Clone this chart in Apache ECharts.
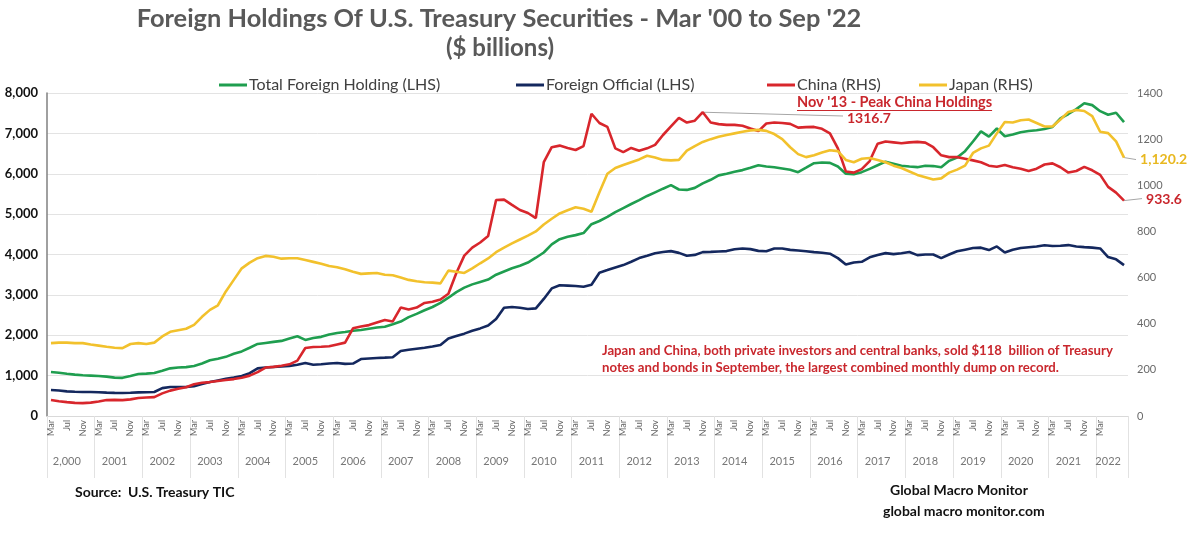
<!DOCTYPE html>
<html lang="en">
<head>
    <meta charset="UTF-8">
    <title>Foreign Holdings Of U.S. Treasury Securities</title>
    <script src="https://cdn.jsdelivr.net/npm/echarts@6.0.0/dist/echarts.min.js"></script>
    <style>
        body { margin: 0; padding: 0; background: #fff; }
        #chart { width: 1200px; height: 545px; }
    </style>
</head>
<body>
    <div id="chart"></div>

    <script>
        // bimonthly readings, Mar 2000 .. Sep 2022 (Mar, May, Jul, Sep, Nov, Jan ...)
        const monthNames = ['Mar', 'May', 'Jul', 'Sep', 'Nov', 'Jan'];

        // $ billions, left axis
        const totalForeign = [
            1089, 1070, 1045, 1025, 1010, 1000, 990, 975, 950, 945, 990, 1040,
            1050, 1065, 1120, 1180, 1200, 1210, 1240, 1300, 1380, 1420, 1465, 1540,
            1600, 1690, 1785, 1810, 1835, 1860, 1920, 1975, 1885, 1930, 1960, 2020,
            2055, 2080, 2110, 2130, 2160, 2190, 2210, 2270, 2340, 2450, 2530, 2620,
            2700, 2800, 2930, 3069, 3180, 3260, 3320, 3380, 3500, 3580, 3660, 3720,
            3800, 3920, 4050, 4250, 4380, 4440, 4480, 4530, 4750, 4830, 4930, 5050,
            5150, 5250, 5346, 5450, 5540, 5630, 5717, 5610, 5600, 5650, 5760, 5850,
            5960, 6000, 6050, 6090, 6150, 6212, 6180, 6160, 6130, 6100, 6040, 6150,
            6262, 6280, 6270, 6180, 6000, 5990, 6040, 6120, 6210, 6300, 6250, 6200,
            6180, 6163, 6200, 6190, 6160, 6320, 6400, 6560, 6800, 7050, 6920, 7120,
            6930, 6970, 7030, 7060, 7079, 7110, 7160, 7370, 7480, 7600, 7747, 7700,
            7550, 7460, 7510, 7277
        ];
        const foreignOfficial = [
            644, 630, 610, 600, 595, 594, 590, 580, 572, 569, 575, 585,
            590, 594, 690, 718, 718, 720, 740, 790, 840, 880, 920, 950,
            990, 1060, 1180, 1200, 1213, 1225, 1238, 1270, 1312, 1270, 1280, 1300,
            1312, 1290, 1300, 1411, 1425, 1436, 1445, 1455, 1609, 1640, 1665, 1690,
            1720, 1757, 1920, 1980, 2040, 2110, 2170, 2240, 2400, 2680, 2698, 2680,
            2650, 2665, 2900, 3160, 3240, 3230, 3218, 3200, 3250, 3550, 3614, 3680,
            3737, 3820, 3911, 3970, 4030, 4060, 4084, 4040, 3970, 3990, 4059, 4065,
            4075, 4084, 4130, 4150, 4133, 4090, 4080, 4150, 4150, 4115, 4100, 4080,
            4059, 4045, 4020, 3910, 3750, 3800, 3820, 3930, 3990, 4034, 4010, 4030,
            4060, 3985, 4000, 4000, 3911, 4000, 4080, 4120, 4160, 4170, 4109, 4200,
            4050, 4120, 4160, 4180, 4200, 4230, 4210, 4215, 4233, 4200, 4183, 4170,
            4150, 3936, 3880, 3737
        ];

        // $ billions, right axis
        const china = [
            69, 64, 60, 57, 56, 58, 63, 69, 70, 69, 72, 78,
            80, 82, 98, 110, 118, 125, 138, 144, 147, 152, 156, 160,
            166, 175, 190, 210, 213, 218, 224, 240, 295, 299, 300, 302,
            310, 318, 380, 388, 394, 405, 416, 410, 470, 462, 470, 490,
            495, 505, 530, 620, 695, 730, 752, 780, 936, 938, 915, 893,
            880, 858, 1100, 1165, 1172, 1162, 1153, 1170, 1310, 1270, 1253, 1160,
            1144, 1162, 1150, 1160, 1175, 1218, 1255, 1292, 1272, 1280, 1316.7, 1272,
            1265, 1262, 1262, 1258, 1246, 1235, 1268, 1272, 1270, 1266, 1250, 1252,
            1253, 1245, 1225, 1160, 1060, 1055, 1070, 1105, 1180, 1190, 1186, 1182,
            1186, 1188, 1185, 1165, 1130, 1122, 1122, 1115, 1108, 1100, 1085, 1080,
            1088, 1078, 1072, 1062, 1072, 1090, 1095, 1078, 1055, 1062, 1080, 1065,
            1045, 993, 968, 933.6
        ];
        const japan = [
            316, 318, 318, 316, 316, 310, 305, 300, 296, 294, 312, 316,
            312, 318, 345, 365, 372, 378, 395, 430, 460, 480, 540, 590,
            640, 665, 684, 694, 690, 682, 684, 684, 676, 668, 660, 650,
            645, 636, 625, 616, 618, 620, 612, 610, 600, 590, 584, 580,
            578, 575, 630, 625, 620, 640, 662, 683, 710, 730, 748, 765,
            782, 800, 830, 855, 878, 892, 905, 898, 885, 970, 1050, 1075,
            1088, 1100, 1112, 1128, 1120, 1110, 1108, 1110, 1150, 1170, 1188, 1200,
            1210, 1218, 1225, 1232, 1238, 1240, 1236, 1222, 1200, 1165, 1135, 1122,
            1130, 1142, 1152, 1148, 1110, 1100, 1115, 1118, 1110, 1100, 1085, 1075,
            1060, 1045, 1035, 1025, 1030, 1055, 1068, 1085, 1140, 1160, 1172, 1225,
            1274, 1272, 1282, 1285, 1270, 1255, 1255, 1285, 1318, 1326, 1322, 1300,
            1232, 1226, 1190, 1120.2
        ];

        const leftTicks = { min: 0, max: 8000, interval: 1000 };
        const rightTicks = { min: 0, max: 1400, interval: 200 };

        const periods = japan.map((v, i) => {
            const m = monthNames[i % 6];
            const y = 2000 + Math.floor(i / 6) + (i % 6 === 5 ? 1 : 0);
            return m + ' ' + y;
        });

        const FONT = 'Lato, "Open Sans", sans-serif';
        const colors = { total: '#1f9e4f', official: '#14285e', china: '#d8262c', japan: '#f2c12c' };

        const chart = echarts.init(document.getElementById('chart'));

        function oneLegend(name, left) {
            return {
                data: [name], left: left, top: 72, icon: 'rect',
                itemWidth: 28, itemHeight: 3,
                textStyle: { fontFamily: FONT, fontSize: 16, color: '#404040', padding: [0, 0, 0, -3] }
            };
        }

        chart.setOption({
            animation: false,
            textStyle: { fontFamily: FONT },
            grid: { left: 47, right: 72, top: 93, bottom: 129 },
            legend: [
                oneLegend('Total Foreign Holding (LHS)', 214),
                oneLegend('Foreign Official (LHS)', 511),
                oneLegend('China (RHS)', 762),
                oneLegend('Japan (RHS)', 914)
            ],
            xAxis: [{
                type: 'category',
                data: periods,
                axisLine: { lineStyle: { color: '#d9d9d9' } },
                axisTick: { show: false },
                axisLabel: {
                    rotate: 90, fontSize: 9, color: '#666', margin: 4,
                    interval: (i) => i % 6 !== 1 && i % 6 !== 3 && i % 6 !== 5 && i <= 132,
                    formatter: (v) => v.split(' ')[0]
                }
            }, {
                type: 'category',
                data: periods,
                position: 'bottom',
                axisLine: { show: false },
                axisTick: {
                    show: true, length: 62,
                    interval: (i) => i % 6 === 0,
                    lineStyle: { color: '#e2e2e2' }
                },
                axisLabel: {
                    fontSize: 11, color: '#777', margin: 40,
                    interval: (i) => i % 6 === 2 || i === 133,
                    formatter: (v, i) => {
                        const y = 2000 + Math.floor(i / 6);
                        return y === 2000 ? '2,000' : String(y);
                    }
                }
            }],
            yAxis: [{
                type: 'value',
                min: leftTicks.min, max: leftTicks.max, interval: leftTicks.interval,
                axisLine: { show: true, lineStyle: { color: '#808080', width: 1.5 } },
                axisTick: { show: false },
                splitLine: { lineStyle: { color: '#e3e3e3' } },
                axisLabel: {
                    fontSize: 13, fontWeight: 'bold', color: '#111', margin: 9,
                    formatter: (v) => v.toLocaleString('en-US')
                }
            }, {
                type: 'value',
                min: rightTicks.min, max: rightTicks.max, interval: rightTicks.interval,
                axisLine: { show: false },
                axisTick: { show: false },
                splitLine: { show: false },
                axisLabel: { fontSize: 11, color: '#6a6a6a', margin: 9, formatter: (v) => String(v) }
            }],
            series: [
                { name: 'Total Foreign Holding (LHS)', type: 'line', data: totalForeign, yAxisIndex: 0,
                  showSymbol: false, color: colors.total, lineStyle: { width: 2.6 } },
                { name: 'Foreign Official (LHS)', type: 'line', data: foreignOfficial, yAxisIndex: 0,
                  showSymbol: false, color: colors.official, lineStyle: { width: 2.6 } },
                { name: 'China (RHS)', type: 'line', data: china, yAxisIndex: 1,
                  showSymbol: false, color: colors.china, lineStyle: { width: 2.6 } },
                { name: 'Japan (RHS)', type: 'line', data: japan, yAxisIndex: 1,
                  showSymbol: false, color: colors.japan, lineStyle: { width: 2.6 } }
            ]
        });

        // annotations anchored to the data through the chart's own scales
        const peakIdx = china.indexOf(Math.max(...china));
        const peakPt = chart.convertToPixel({ seriesIndex: 2 }, [peakIdx, china[peakIdx]]);
        const last = japan.length - 1;
        const japanEnd = chart.convertToPixel({ seriesIndex: 3 }, [last, japan[last]]);
        const chinaEnd = chart.convertToPixel({ seriesIndex: 2 }, [last, china[last]]);

        const red = '#c9272d';
        const peakLabel = "Nov '13 - Peak China Holdings";
        const ctx = document.createElement('canvas').getContext('2d');
        ctx.font = 'bold 14.5px Lato';
        const peakW = ctx.measureText(peakLabel).width;

        const txt = (x, y, text, style) => ({
            type: 'text', x: x, y: y, silent: true,
            style: Object.assign({ text: text, fontFamily: FONT, textVerticalAlign: 'middle' }, style)
        });
        const ln = (x1, y1, x2, y2, color) => ({
            type: 'line', silent: true,
            shape: { x1: x1, y1: y1, x2: x2, y2: y2 },
            style: { stroke: color, lineWidth: 1 }
        });

        chart.setOption({
            graphic: [
                txt(499, 19, "Foreign Holdings Of U.S. Treasury Securities - Mar '00 to Sep '22",
                    { fontSize: 25.4, fontWeight: 'bold', fill: '#595959', textAlign: 'center' }),
                txt(500, 48, '($ billions)',
                    { fontSize: 24, fontWeight: 'bold', fill: '#595959', textAlign: 'center' }),

                txt(797, 102, peakLabel, { fontSize: 14.5, fontWeight: 'bold', fill: red }),
                ln(797, 110.5, 797 + peakW, 110.5, red),
                txt(847, 118, String(china[peakIdx]), { fontSize: 14, fontWeight: 'bold', fill: red }),
                ln(peakPt[0], peakPt[1], 843, 116, '#a6a6a6'),

                ln(japanEnd[0], japanEnd[1], japanEnd[0] + 12, japanEnd[1] + 2, '#a6a6a6'),
                txt(japanEnd[0] + 16, japanEnd[1] + 2,
                    japan[last].toLocaleString('en-US', { minimumFractionDigits: 1 }),
                    { fontSize: 14, fontWeight: 'bold', fill: '#e8b820' }),
                ln(chinaEnd[0], chinaEnd[1], chinaEnd[0] + 18, chinaEnd[1] - 2, '#a6a6a6'),
                txt(chinaEnd[0] + 22, chinaEnd[1] - 1, String(china[last]),
                    { fontSize: 14, fontWeight: 'bold', fill: red }),

                txt(602, 351, 'Japan and China, both private investors and central banks, sold $118  billion of Treasury',
                    { fontSize: 13.2, fontWeight: 'bold', fill: red }),
                txt(602, 368, 'notes and bonds in September, the largest combined monthly dump on record.',
                    { fontSize: 13.2, fontWeight: 'bold', fill: red }),

                txt(75, 492, 'Source:  U.S. Treasury TIC', { fontSize: 14, fontWeight: 'bold', fill: '#111' }),
                txt(890, 490, 'Global Macro Monitor', { fontSize: 14, fontWeight: 'bold', fill: '#111' }),
                txt(883, 511, 'global macro monitor.com', { fontSize: 14, fontWeight: 'bold', fill: '#111' })
            ]
        });
    </script>
</body>
</html>
